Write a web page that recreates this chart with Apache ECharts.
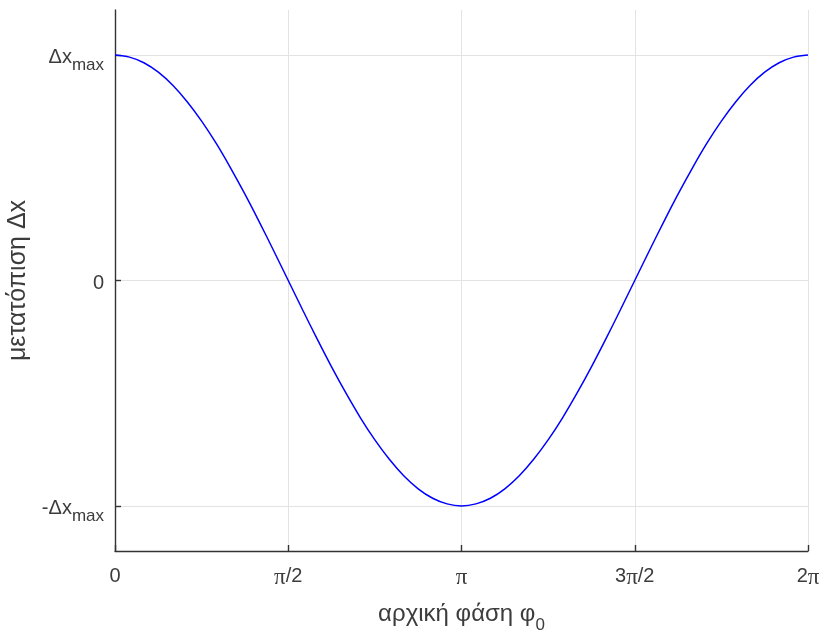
<!DOCTYPE html>
<html>
<head>
<meta charset="utf-8">
<style>
  html, body { margin: 0; padding: 0; background: #ffffff; }
  #chart { width: 822px; height: 630px; }
</style>
<script src="https://cdn.jsdelivr.net/npm/echarts@6/dist/echarts.min.js"></script>
</head>
<body>
<div id="chart"></div>
<script>
// Initial phase φ0, in multiples of π (0 … 2π, step π/24)
const phase = [0, 0.0417, 0.0833, 0.125, 0.1667, 0.2083, 0.25, 0.2917, 0.3333, 0.375, 0.4167, 0.4583,
               0.5, 0.5417, 0.5833, 0.625, 0.6667, 0.7083, 0.75, 0.7917, 0.8333, 0.875, 0.9167, 0.9583,
               1, 1.0417, 1.0833, 1.125, 1.1667, 1.2083, 1.25, 1.2917, 1.3333, 1.375, 1.4167, 1.4583,
               1.5, 1.5417, 1.5833, 1.625, 1.6667, 1.7083, 1.75, 1.7917, 1.8333, 1.875, 1.9167, 1.9583, 2];
// Displacement Δx, in units of Δx_max
const displacement = [1.000, 0.991, 0.966, 0.924, 0.866, 0.793, 0.707, 0.609, 0.500, 0.383, 0.259, 0.131,
                      0.000, -0.131, -0.259, -0.383, -0.500, -0.609, -0.707, -0.793, -0.866, -0.924, -0.966, -0.991,
                      -1.000, -0.991, -0.966, -0.924, -0.866, -0.793, -0.707, -0.609, -0.500, -0.383, -0.259, -0.131,
                      0.000, 0.131, 0.259, 0.383, 0.500, 0.609, 0.707, 0.793, 0.866, 0.924, 0.966, 0.991, 1.000];
// Tick positions and labels
const xTicks = [0, 0.5, 1, 1.5, 2];
const xTickLabels = ['{t|0}', '{p|π}{t|/2}', '{p|π}', '{t|3}{p|π}{t|/2}', '{t|2}{p|π}'];
const yTicks = [-1, 0, 1];
const yTickLabels = ['{t|-Δx}{s|max}', '{t|0}', '{t|Δx}{s|max}'];

const textColor = '#3c3c3c';
const axisColor = '#333333';
const gridColor = '#e3e3e3';
const font = 'Liberation Sans, Arial, sans-serif';

const tickRich = {
  t: { fontFamily: font, fontSize: 20, color: textColor, lineHeight: 30, padding: [5, 0, 0, 0] },
  p: { fontFamily: 'Liberation Serif, DejaVu Serif, serif', fontSize: 23, color: textColor, lineHeight: 30, padding: [7, 0, 0, 0] },
  s: { fontFamily: font, fontSize: 17, color: textColor, lineHeight: 30, padding: [21, 0, 0, 0] }
};

const chart = echarts.init(document.getElementById('chart'), null, { renderer: 'canvas' });

chart.setOption({
  animation: false,
  backgroundColor: '#ffffff',
  grid: { left: 115, right: 14, top: 10, bottom: 79, containLabel: false, outerBoundsMode: 'none' },
  xAxis: {
    type: 'value',
    min: 0,
    max: 2,
    interval: 0.5,
    name: '{n|αρχική φάση φ}{s|0}',
    nameLocation: 'middle',
    nameGap: 42,
    nameTextStyle: {
      rich: {
        n: { fontFamily: font, fontSize: 24, color: textColor, lineHeight: 30 },
        s: { fontFamily: font, fontSize: 17, color: textColor, lineHeight: 30, padding: [23, 0, 0, 0] }
      }
    },
    axisLine: { show: true, onZero: false, lineStyle: { color: axisColor, width: 1.4 } },
    axisTick: { show: true, inside: true, length: 6, lineStyle: { color: axisColor, width: 1.4 } },
    axisLabel: {
      margin: 8,
      formatter: v => xTickLabels[xTicks.indexOf(Math.round(v * 2) / 2)] || '',
      rich: tickRich
    },
    splitLine: { show: true, lineStyle: { color: gridColor, width: 1 } }
  },
  yAxis: {
    type: 'value',
    min: -1.2,
    max: 1.2,
    name: 'μετατόπιση Δx',
    nameLocation: 'middle',
    nameGap: 80,
    nameRotate: 90,
    nameTextStyle: { fontFamily: font, fontSize: 25, color: textColor },
    axisLine: { show: true, onZero: false, lineStyle: { color: axisColor, width: 1.4 } },
    axisTick: { show: true, inside: true, length: 6, customValues: yTicks, lineStyle: { color: axisColor, width: 1.4 } },
    axisLabel: {
      margin: 11,
      customValues: yTicks,
      formatter: v => yTickLabels[yTicks.indexOf(Math.round(v))] || '',
      rich: tickRich
    },
    splitLine: { show: true, lineStyle: { color: gridColor, width: 1 } }
  },
  series: [{
    type: 'line',
    data: phase.map((p, i) => [p, displacement[i]]),
    smooth: 0.3,
    symbol: 'none',
    lineStyle: { color: '#0000ff', width: 1.5 },
    z: 5
  }]
});
</script>
</body>
</html>
